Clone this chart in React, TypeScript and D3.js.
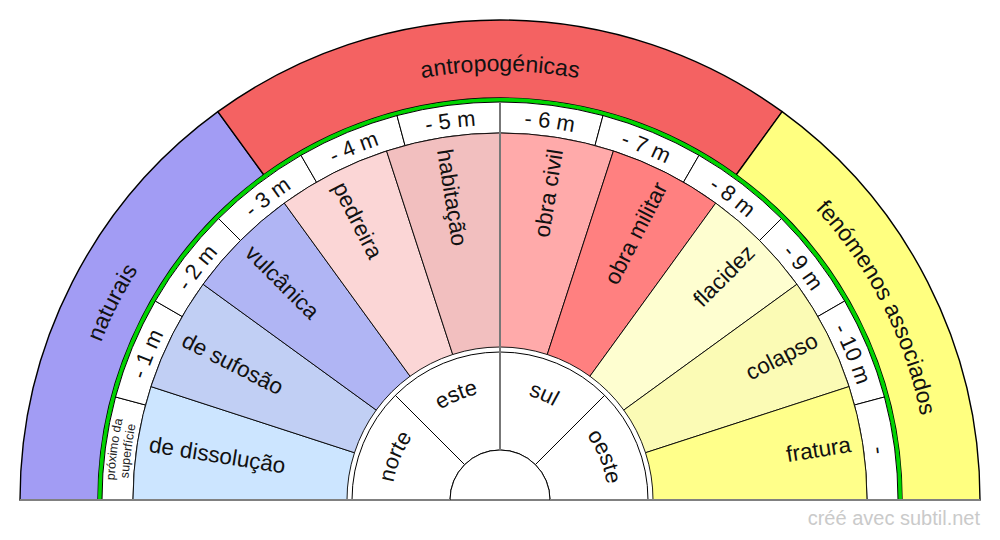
import React from 'react';
import * as d3 from 'd3';

const categories = ['naturais', 'antropogénicas', 'fenómenos associados'];
const categorySpans = [3, 4, 3];
const categoryColors = ['#a29cf4', '#f46262', '#ffff80'];

const types = [
    'de dissolução', 'de sufosão', 'vulcânica',
    'pedreira', 'habitação', 'obra civil', 'obra militar',
    'flacidez', 'colapso', 'fratura',
];
const typeColors = [
    '#cce5ff', '#c1cff4', '#b0b5f4',
    '#fbd6d6', '#f2bfbf', '#ffaaaa', '#ff8080',
    '#fefed0', '#fbfbb5', '#ffff8a',
];

const depths = [
    'próximo da superfície', '- 1 m', '- 2 m', '- 3 m', '- 4 m', '- 5 m',
    '- 6 m', '- 7 m', '- 8 m', '- 9 m', '- 10 m', '-',
];

const directions = ['norte', 'este', 'sul', 'oeste'];

const cx = 500;
const cy = 500;
const font = "'Liberation Sans', Arial, sans-serif";

const polar = (r: number, a: number): [number, number] => [cx + r * Math.sin(a), cy - r * Math.cos(a)];

// invisible arc for curved labels, centred on the label angle
const labelPath = (r: number, mid: number) => {
    const span = 1.4;
    const [x0, y0] = polar(r, mid - span);
    const [x1, y1] = polar(r, mid + span);
    return `M${x0},${y0} A${r},${r} 0 0 1 ${x1},${y1}`;
};

const angle = (n: number) => d3.scaleLinear().domain([0, n]).range([-Math.PI / 2, Math.PI / 2]);

const App: React.FC = () => {
    const typeAngle = angle(types.length);
    const depthAngle = angle(depths.length);
    const dirAngle = angle(directions.length);

    const catStarts = categorySpans.map((_, i) => d3.sum(categorySpans.slice(0, i)));

    const arc = d3.arc<any>();
    const mk = (inner: number, outer: number, a0: number, a1: number) =>
        arc({ innerRadius: inner, outerRadius: outer, startAngle: a0, endAngle: a1 }) as string;

    const [gx0, gy0] = polar(50, 0);
    const [gx1, gy1] = polar(398, 0);
    const shift = `translate(${cx},${cy})`;

    return (
        <svg width={1000} height={540} style={{ position: 'absolute', left: 0, top: 0, background: '#fff' }}
            fontFamily={font}>
            <defs>
                {categories.map((c, i) => {
                    const mid = typeAngle(catStarts[i] + categorySpans[i] / 2);
                    return <path key={c} id={`cat${i}`} d={labelPath(429, mid)} />;
                })}
                {depths.map((d, i) => {
                    const mid = depthAngle(i + 0.5);
                    return <path key={d} id={`dep${i}`} d={labelPath(375, mid)} />;
                })}
                <path id="dep0a" d={labelPath(386, depthAngle(0.5))} />
                <path id="dep0b" d={labelPath(372, depthAngle(0.5))} />
                {directions.map((d, i) => {
                    const mid = dirAngle(i + 0.5);
                    return <path key={d} id={`dir${i}`} d={labelPath(108, mid)} />;
                })}
            </defs>

            {/* outer ring: categories */}
            <g transform={shift}>
                {categories.map((c, i) => (
                    <path key={c}
                        d={mk(402, 480, typeAngle(catStarts[i]), typeAngle(catStarts[i] + categorySpans[i]))}
                        fill={categoryColors[i]} stroke="#000" strokeWidth={1.4} />
                ))}
                {/* green separator */}
                <path d={mk(398, 402, -Math.PI / 2, Math.PI / 2)} fill="#00d400" />
            </g>
            {categories.map((c, i) => (
                <text key={c} fontSize={23} fill="#111" textAnchor="middle">
                    <textPath href={`#cat${i}`} startOffset="50%">{c}</textPath>
                </text>
            ))}

            {/* depth ring */}
            <g transform={shift}>
                {depths.map((d, i) => (
                    <path key={d} d={mk(367, 398, depthAngle(i), depthAngle(i + 1))}
                        fill="#fff" stroke="#000" strokeWidth={1} />
                ))}
            </g>
            {depths.map((d, i) => i === 0 ? (
                <g key={d} fontSize={12.5} fill="#222" textAnchor="middle">
                    <text><textPath href="#dep0a" startOffset="50%">próximo da</textPath></text>
                    <text><textPath href="#dep0b" startOffset="50%">superfície</textPath></text>
                </g>
            ) : (
                <text key={d} fontSize={22} fill="#111" textAnchor="middle">
                    <textPath href={`#dep${i}`} startOffset="50%">{d}</textPath>
                </text>
            ))}

            {/* sinkhole types */}
            <g transform={shift}>
                {types.map((t, i) => (
                    <path key={t} d={mk(153, 367, typeAngle(i), typeAngle(i + 1))}
                        fill={typeColors[i]} stroke="#000" strokeWidth={0.9} />
                ))}
            </g>
            {types.map((t, i) => {
                const a = typeAngle(i + 0.5);
                const [x, y] = polar(355, a);
                const theta = a * 180 / Math.PI + 90;
                const left = theta < 90;
                return (
                    <text key={t} x={0} y={0} fontSize={22.5} fill="#111"
                        textAnchor={left ? 'start' : 'end'} dominantBaseline="central"
                        transform={`translate(${x},${y}) rotate(${left ? theta : theta - 180})`}>
                        {t}
                    </text>
                );
            })}

            {/* directions */}
            <g transform={shift}>
                {directions.map((d, i) => (
                    <path key={d} d={mk(50, 148, dirAngle(i), dirAngle(i + 1))}
                        fill="#fff" stroke="#000" strokeWidth={1} />
                ))}
                <path d={mk(0, 50, -Math.PI / 2, Math.PI / 2)} fill="#fff" stroke="#000" strokeWidth={1} />
            </g>
            {directions.map((d, i) => (
                <text key={d} fontSize={22} fill="#111" textAnchor="middle">
                    <textPath href={`#dir${i}`} startOffset="50%">{d}</textPath>
                </text>
            ))}

            {/* axis lines */}
            <line x1={gx0} y1={gy0} x2={gx1} y2={gy1} stroke="#777" strokeWidth={2} />
            <line x1={20} y1={cy} x2={cx - 50} y2={cy} stroke="#808080" strokeWidth={2} />
            <line x1={cx + 50} y1={cy} x2={980} y2={cy} stroke="#808080" strokeWidth={2} />

            <text x={980} y={525} textAnchor="end" fontSize={20} fill="#cacaca">créé avec subtil.net</text>
        </svg>
    );
};

export default App;
